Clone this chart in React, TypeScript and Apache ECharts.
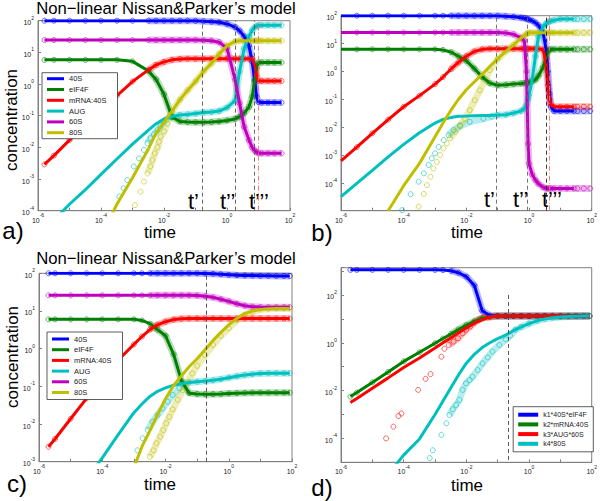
import React, { useEffect, useRef } from 'react';
import * as echarts from 'echarts';

const FONT = 'Liberation Sans, Arial, Helvetica, sans-serif';
const SPECIES = ['40S', 'eIF4F', 'mRNA:40S', 'AUG', '60S', '80S'];
const D_NAMES = ['k1*40S*eIF4F', 'k2*mRNA:40S', 'k3*AUG*60S', 'k4*80S'];
const COLORS = ['#0000ff', '#008000', '#ff0000', '#00bfbf', '#bf00bf', '#bfbf00'];
const TITLE = 'Non\u2212linear Nissan&Parker\u2019s model';

// ---------- panel a ----------
const tA = [1.6e-6, 3.2e-6, 1e-5, 3.2e-5, 1e-4, 3.2e-4, 1e-3, 3.2e-3, 5.6e-3, 1e-2, 1.8e-2, 3.2e-2, 5.6e-2, 0.1, 0.18, 0.32, 0.56, 1, 1.8, 2.5, 3.5, 5, 6.3, 7.6, 8.7, 10, 12.6, 20, 32, 54];
const a40S = [100, 100, 100, 100, 100, 100, 100, 100, 100, 100, 100, 100, 100, 99, 96, 93, 89, 79, 63, 48, 32, 16, 5, 1.3, 0.4, 0.27, 0.26, 0.26, 0.26, 0.26];
const aEIF4F = [5.8, 5.8, 5.8, 5.8, 5.8, 5.8, 5.2, 2.6, 1.4, 0.47, 0.09, 0.066, 0.063, 0.062, 0.062, 0.063, 0.066, 0.071, 0.079, 0.093, 0.12, 0.19, 0.4, 1.3, 3.2, 4.8, 4.8, 4.8, 4.8, 4.8];
const aMRNA = [2.9e-3, 5.5e-3, 0.017, 0.049, 0.14, 0.43, 1.2, 2.8, 4.0, 5.0, 5.8, 6.2, 6.3, 6.3, 6.3, 6.3, 6.3, 6.3, 6.3, 6.3, 6.3, 6.3, 6.3, 4.0, 1.8, 1.26, 1.25, 1.25, 1.25, 1.25];
const aAUG = [2.5e-5, 5e-5, 1.6e-4, 4.6e-4, 1.4e-3, 4.3e-3, 0.0126, 0.035, 0.056, 0.079, 0.095, 0.105, 0.11, 0.117, 0.126, 0.13, 0.14, 0.18, 0.3, 2.5, 13, 32, 50, 62, 68, 71, 72, 72, 72, 72];
const a60S = [24.5, 24.5, 24.5, 24.5, 24.5, 24.5, 24.5, 24.5, 24.5, 24.5, 24.5, 24.5, 24.5, 24.5, 24, 23.4, 21, 13.5, 1.4, 0.25, 0.045, 0.017, 0.01, 7.9e-3, 7.1e-3, 6.6e-3, 6.5e-3, 6.5e-3, 6.5e-3, 6.5e-3];
const a80S = [null, null, null, null, 1.6e-5, 1.6e-4, 1.1e-3, 8.9e-3, 0.028, 0.063, 0.14, 0.32, 0.63, 1.2, 2.5, 4.5, 8.9, 16, 22, 23.4, 23.4, 23.4, 23.4, 23.4, 23.4, 23.4, 23.4, 23.4, 23.4, 23.4];
// early circles that leave the lines
const aAUGCircT = [3.8e-4, 5.2e-4, 6.8e-4, 1.1e-3, 1.6e-3, 2.3e-3, 3e-3, 3.7e-3, 4.8e-3, 6.2e-3, 7.8e-3, 0.01, 0.0145];
const aAUGCircV = [2.8e-4, 5.1e-4, 9.3e-4, 2.5e-3, 4.5e-3, 8.3e-3, 0.0135, 0.0195, 0.026, 0.035, 0.048, 0.065, 0.089];
const a80SCircT = [1.2e-3, 1.8e-3, 2.3e-3, 3e-3, 3.7e-3, 4.3e-3, 5.1e-3, 6.2e-3, 6.9e-3, 7.8e-3, 0.01, 0.0126, 0.0158];
const a80SCircV = [1.5e-4, 4e-4, 8.3e-4, 1.5e-3, 2.5e-3, 4e-3, 6.5e-3, 0.01, 0.015, 0.022, 0.032, 0.056, 0.1];
const aMarks = [0.165, 1.85, 7.6];
const aRedMark = 9.5;

// ---------- panel b ----------
const tB = [1e-6, 3.2e-6, 1e-5, 3.2e-5, 1e-4, 3.2e-4, 1e-3, 1.8e-3, 3.2e-3, 5.6e-3, 0.01, 0.018, 0.032, 0.056, 0.1, 0.18, 0.32, 0.56, 0.71, 0.83, 0.93, 1.0, 1.26, 1.6, 2.0, 2.8, 3.5, 4.0, 4.5, 5.0, 6.3, 10, 16, 27];
const b40S = [100, 100, 100, 100, 100, 100, 100, 100, 100, 100, 100, 100, 100, 100, 100, 95, 91, 85, 81, 78, 74, 72, 66, 56, 45, 25, 6.3, 1.0, 0.16, 0.054, 0.038, 0.038, 0.038, 0.038];
const bEIF4F = [6.2, 6.2, 6.2, 6.2, 6.2, 6.2, 6.2, 5.9, 5.0, 3.5, 2.4, 1.26, 0.63, 0.38, 0.32, 0.33, 0.35, 0.37, 0.38, 0.39, 0.39, 0.4, 0.45, 0.5, 0.7, 1.4, 3.2, 5.0, 5.9, 6.2, 6.2, 6.2, 6.2, 6.2];
const bMRNA = [6.2e-4, 1.9e-3, 6e-3, 0.0186, 0.054, 0.135, 0.35, 0.63, 1.2, 2.1, 3.5, 5.2, 6.2, 6.5, 6.5, 6.5, 6.5, 6.5, 6.5, 6.5, 6.5, 6.5, 6.5, 6.5, 6.5, 6.0, 2.0, 0.32, 0.1, 0.063, 0.054, 0.054, 0.054, 0.054];
const bAUG = [3.2e-5, 9.5e-5, 2.8e-4, 8.5e-4, 2.4e-3, 6.3e-3, 0.014, 0.019, 0.022, 0.0245, 0.025, 0.0257, 0.026, 0.026, 0.027, 0.028, 0.032, 0.038, 0.047, 0.063, 0.1, 0.14, 0.5, 3.5, 18, 40, 52, 58, 62, 65, 69, 76, 76, 76];
const b60S = [25, 25, 25, 25, 25, 25, 25, 25, 25, 25, 25, 25, 25, 25, 25, 24, 21.4, 16, 12.6, 1.0, 2.5e-3, 5e-4, 2e-4, 1.26e-4, 9.3e-5, 7e-5, 6.3e-5, 6.3e-5, 6.3e-5, 6.3e-5, 6.3e-5, 6.3e-5, 6.3e-5, 6.3e-5];
const b80S = [null, null, null, 1e-5, 7.9e-5, 5e-4, 4.5e-3, 0.014, 0.04, 0.1, 0.22, 0.42, 0.8, 1.5, 2.8, 5.2, 8.9, 16, 19, 22, 23.4, 24.5, 24.5, 24.5, 24.5, 24.5, 24.5, 24.5, 24.5, 24.5, 24.5, 24.5, 24.5, 24.5];
const bAUGCircT = [8.9e-5, 1.66e-4, 3e-4, 4.4e-4, 6.3e-4, 7.9e-4, 1e-3, 1.3e-3, 1.9e-3, 2.7e-3, 3.9e-3, 6.3e-3, 0.0129, 0.035, 0.063];
const bAUGCircV = [1.05e-5, 3.9e-5, 1.1e-4, 2.2e-4, 4.4e-4, 7.6e-4, 1.15e-3, 1.95e-3, 3.4e-3, 5.1e-3, 7.8e-3, 0.011, 0.0155, 0.02, 0.024];
const b80SCircT = [3e-4, 4.4e-4, 5.5e-4, 7.1e-4, 8.9e-4, 1.15e-3, 1.45e-3, 1.86e-3, 2.4e-3, 3e-3, 4.4e-3, 6.3e-3, 9.1e-3, 0.0129, 0.0186, 0.027, 0.04, 0.056];
const b80SCircV = [1.4e-5, 4e-5, 8.3e-5, 1.66e-4, 3.3e-4, 5.6e-4, 1e-3, 1.74e-3, 2.6e-3, 4e-3, 6.8e-3, 0.0117, 0.02, 0.041, 0.093, 0.21, 0.5, 1.12];
// circles past the end of the lines
const bTailT = [35, 56, 90];
const bTail40S = [0.038, 0.038, 0.038];
const bTailEIF4F = [6.2, 6.2, 6.2];
const bTailMRNA = [0.054, 0.054, 0.054];
const bTailAUG = [76, 76, 76];
const bTail60S = [6.3e-5, 6.3e-5, 6.3e-5];
const bTail80S = [24.5, 24.5, 24.5];
const bMarks = [0.091, 0.87, 3.5];
const bRedMark = 4.4;

// ---------- panel c ----------
const tC = [2e-6, 3.2e-6, 1e-5, 3.2e-5, 1e-4, 3.2e-4, 1e-3, 1.8e-3, 3.2e-3, 5.6e-3, 0.01, 0.018, 0.032, 0.056, 0.1, 0.18, 0.32, 0.56, 1, 1.8, 3.2, 5.6, 10, 18, 32, 56, 85];
const c40S = [100, 100, 100, 100, 100, 100, 100, 100, 100, 100, 100, 100, 100, 100, 100, 99, 97, 94, 91, 89, 88, 87, 86, 85.5, 85, 85, 85];
const cEIF4F = [6.0, 6.0, 6.0, 6.0, 6.0, 6.0, 6.0, 5.6, 4.6, 3.2, 2.2, 0.71, 0.14, 0.066, 0.063, 0.062, 0.062, 0.063, 0.065, 0.066, 0.067, 0.068, 0.068, 0.068, 0.068, 0.068, 0.068];
const cMRNA = [2.5e-3, 4e-3, 0.0138, 0.048, 0.16, 0.5, 1.3, 2.1, 3.2, 4.3, 5.2, 5.9, 6.2, 6.3, 6.3, 6.3, 6.3, 6.3, 6.3, 6.3, 6.3, 6.3, 6.3, 6.3, 6.3, 6.3, 6.3];
const cAUG = [null, null, null, 3.5e-4, 1.26e-3, 5.2e-3, 0.02, 0.034, 0.054, 0.074, 0.091, 0.107, 0.117, 0.126, 0.132, 0.138, 0.145, 0.155, 0.17, 0.185, 0.2, 0.21, 0.22, 0.222, 0.224, 0.224, 0.224];
const c60S = [26, 26, 26, 26, 26, 26, 26, 26, 26, 26, 26, 26, 26, 26, 25.7, 24.5, 23, 20.5, 18, 15.5, 13.8, 13, 12.7, 12.6, 12.6, 12.6, 12.6];
const c80S = [null, null, null, null, null, null, 7e-4, 2.5e-3, 6.6e-3, 0.0178, 0.047, 0.105, 0.19, 0.33, 0.54, 0.95, 1.66, 2.7, 4.3, 6.3, 8.5, 10, 11, 11.5, 11.7, 11.7, 11.7];
const cAUGCircT = [1.3e-3, 1.9e-3, 2.75e-3, 3.9e-3, 5.6e-3, 8.1e-3, 0.0117, 0.017, 0.0275];
const cAUGCircV = [2e-3, 4.2e-3, 6.9e-3, 0.0115, 0.0174, 0.026, 0.039, 0.059, 0.089];
const c80SCircT = [3.2e-3, 4.2e-3, 5.2e-3, 6.8e-3, 8.5e-3, 0.0105, 0.0132, 0.017, 0.0245, 0.035, 0.05, 0.071, 0.1, 0.178, 0.32, 0.56, 1.0, 1.78, 3.2, 5.6];
const c80SCircV = [1.35e-3, 2e-3, 3.1e-3, 4.6e-3, 6.9e-3, 0.0105, 0.0155, 0.0245, 0.044, 0.079, 0.13, 0.22, 0.35, 0.68, 1.26, 2.2, 3.5, 5.6, 7.9, 9.5];
const cMark = 0.2;

// ---------- panel d ----------
const tD = [2e-6, 3.2e-6, 1e-5, 3.2e-5, 1e-4, 3.2e-4, 1e-3, 1.8e-3, 3.2e-3, 5.6e-3, 0.01, 0.018, 0.032, 0.056, 0.1, 0.18, 0.32, 0.56, 1, 1.8, 3.2, 5.6, 10, 18, 32, 56, 85];
const dK1 = [1120, 1120, 1120, 1120, 1120, 1120, 1120, 1100, 1030, 850, 580, 250, 22, 13.8, 13.2, 13.2, 13.2, 13.2, 13.2, 13.2, 13.2, 13.2, 13.2, 13.2, 13.2, 13.2, 13.2];
const dK2 = [5.6e-3, 8.3e-3, 0.022, 0.06, 0.166, 0.4, 0.95, 1.5, 2.3, 3.6, 5.5, 7.9, 10.7, 12.3, 13.2, 13.2, 13.2, 13.2, 13.2, 13.2, 13.2, 13.2, 13.2, 13.2, 13.2, 13.2, 13.2];
const dK3 = [3.2e-3, 4.7e-3, 0.0126, 0.034, 0.093, 0.23, 0.6, 1.0, 1.6, 2.6, 4.2, 6.6, 9.3, 12, 13.2, 13.2, 13.2, 13.2, 13.2, 13.2, 13.2, 13.2, 13.2, 13.2, 13.2, 13.2, 13.2];
const dK4 = [null, null, null, 3.2e-6, 2e-5, 9.5e-5, 1e-3, 3.7e-3, 0.0132, 0.045, 0.14, 0.33, 0.63, 1.0, 1.48, 2.1, 3.2, 4.6, 6.3, 8.3, 10, 11.2, 12, 12.6, 12.9, 13.2, 13.2];
const dK3CircT = [2.75e-5, 4.7e-5, 6.8e-5, 8.5e-5, 2.9e-4, 5e-4, 7.2e-4, 1.6e-3, 2e-3, 2.75e-3, 3.9e-3, 5.4e-3, 7.6e-3, 9.8e-3, 0.0132, 0.0178, 0.0257, 0.037];
const dK3CircV = [1e-4, 3.1e-4, 8.7e-4, 1.1e-3, 0.0107, 0.031, 0.049, 0.26, 0.56, 0.81, 1.12, 1.55, 2.5, 3.5, 4.8, 6.9, 9.5, 11.7];
const dK4CircT = [6.8e-4, 8.5e-4, 1.6e-3, 2.3e-3, 2.9e-3, 3.7e-3, 4.7e-3, 6e-3, 7.6e-3, 9.8e-3, 0.0126, 0.0158, 0.0229, 0.033, 0.048, 0.068, 0.112, 0.182, 0.25, 0.37];
const dK4CircV = [1.5e-5, 3.2e-5, 1.4e-4, 4.3e-4, 9.5e-4, 1.66e-3, 2.5e-3, 4.1e-3, 0.0107, 0.02, 0.0275, 0.038, 0.072, 0.138, 0.245, 0.43, 0.81, 1.38, 2.0, 3.5];
const dMark = 0.21;

// ---------- helpers ----------
const lg = (x: number) => Math.log10(x);
const toPts = (t: number[], v: (number | null)[]) =>
  t.map((x, i) => (v[i] == null ? null : [lg(x), lg(v[i] as number)])).filter((p) => p !== null) as number[][];

const withEarly = (t: number[], v: (number | null)[], et: number[], ev: number[]) => {
  const last = et[et.length - 1];
  const lt: number[] = [];
  const lv: (number | null)[] = [];
  t.forEach((x, i) => {
    if (x > last) { lt.push(x); lv.push(v[i]); }
  });
  return toPts(et, ev).concat(toPts(lt, lv));
};

const lineS = (name: string, color: string, g: number, data: any[]) => ({
  type: 'line', name, xAxisIndex: g, yAxisIndex: g, data,
  showSymbol: false, symbol: 'none', clip: true, z: 3,
  lineStyle: { width: 3, color }, itemStyle: { color }, silent: true,
});
// soft band where the solver's circles are packed densely
const bandS = (color: string, g: number, data: number[][]) => ({
  type: 'line', name: 'band', xAxisIndex: g, yAxisIndex: g,
  data: data.filter((p) => p[0] >= -2.6),
  showSymbol: false, symbol: 'none', clip: true, z: 1, silent: true,
  lineStyle: { width: 7, color, opacity: 0.28 }, itemStyle: { color },
});
const circS = (name: string, color: string, g: number, data: any[]) => ({
  type: 'scatter', name, xAxisIndex: g, yAxisIndex: g, data,
  symbol: 'circle', symbolSize: 5, clip: true, z: 2, silent: true,
  itemStyle: { color: 'rgba(0,0,0,0)', borderColor: color, borderWidth: 0.7, opacity: 0.85 },
});
const markS = (g: number, lines: any[]) => ({
  type: 'line', name: 'marks' + g, xAxisIndex: g, yAxisIndex: g, data: [], z: 5, silent: true,
  markLine: { symbol: 'none', silent: true, label: { show: false }, animation: false, data: lines },
});
const vLine = (t: number, color: string, type: any) => ({
  xAxis: lg(t), lineStyle: { color, width: 0.9, type },
});

const rich = {
  b: { fontSize: 7, color: '#222', fontFamily: FONT, verticalAlign: 'bottom', lineHeight: 11 },
  s: { fontSize: 5, color: '#222', fontFamily: FONT, verticalAlign: 'top', lineHeight: 11 },
};
const fmt = (skipOdd: boolean, hide: number[] = []) => (v: number) => {
  const e = Math.round(v);
  if (Math.abs(v - e) > 1e-6) return '';
  if (skipOdd && e % 2 !== 0) return '';
  if (hide.includes(e)) return '';
  return '{b|10}{s|' + e + '}';
};
const axisBase = {
  type: 'value', interval: 1,
  axisLine: { show: true, onZero: false, lineStyle: { color: '#808080', width: 1 } },
  axisTick: { show: true, inside: true, length: 3, lineStyle: { color: '#808080' } },
  splitLine: { show: false },
};
const xAx = (g: number) => ({
  ...axisBase, gridIndex: g, min: -6, max: 2,
  axisLabel: { formatter: fmt(true), rich, margin: 2 },
});
const yAx = (g: number, min: number, max: number, skipOdd: boolean, hide: number[] = []) => ({
  ...axisBase, gridIndex: g, min, max,
  axisLabel: { formatter: fmt(skipOdd, hide), rich, margin: 4 },
});

const legendBase = {
  orient: 'vertical', icon: 'rect', selectedMode: false,
  borderColor: '#333', borderWidth: 0.8, backgroundColor: '#fff',
  textStyle: { fontSize: 7.5, lineHeight: 8, color: '#222', fontFamily: FONT },
};

const txt = (text: string, x: number, y: number, size: number, extra: any = {}) => ({
  type: 'text', x, y, silent: true, ...extra,
  style: { text, fontSize: size, fontFamily: FONT, fill: '#000', textAlign: 'center', textVerticalAlign: 'middle', ...(extra.style || {}) },
});

function buildOption() {
  const series: any[] = [];
  const aV = [a40S, aEIF4F, aMRNA, aAUG, a60S, a80S];
  const bV = [b40S, bEIF4F, bMRNA, bAUG, b60S, b80S];
  const cV = [c40S, cEIF4F, cMRNA, cAUG, c60S, c80S];
  const dV = [dK1, dK2, dK3, dK4];
  // lines first (legend picks the first series of a name)
  aV.forEach((v, i) => series.push(lineS(SPECIES[i], COLORS[i], 0, toPts(tA, v))));
  bV.forEach((v, i) => series.push(lineS(SPECIES[i], COLORS[i], 1, toPts(tB, v))));
  cV.forEach((v, i) => series.push(lineS(SPECIES[i], COLORS[i], 2, toPts(tC, v))));
  dV.forEach((v, i) => series.push(lineS(D_NAMES[i], COLORS[i], 3, toPts(tD, v))));

  const circ: { g: number; name: string; color: string; d: number[][] }[] = [];
  aV.forEach((v, i) => {
    let d: number[][];
    if (i === 3) d = withEarly(tA, v, aAUGCircT, aAUGCircV);
    else if (i === 5) d = withEarly(tA, v, a80SCircT, a80SCircV);
    else d = toPts(tA, v);
    circ.push({ g: 0, name: SPECIES[i], color: COLORS[i], d });
  });
  const bTails = [bTail40S, bTailEIF4F, bTailMRNA, bTailAUG, bTail60S, bTail80S];
  bV.forEach((v, i) => {
    let d: number[][];
    if (i === 3) d = withEarly(tB, v, bAUGCircT, bAUGCircV);
    else if (i === 5) d = withEarly(tB, v, b80SCircT, b80SCircV);
    else d = toPts(tB.slice(1), v.slice(1));
    d = d.concat(toPts(bTailT, bTails[i]));
    circ.push({ g: 1, name: SPECIES[i], color: COLORS[i], d });
  });
  cV.forEach((v, i) => {
    let d: number[][];
    if (i === 3) d = withEarly(tC, v, cAUGCircT, cAUGCircV);
    else if (i === 5) d = withEarly(tC, v, c80SCircT, c80SCircV);
    else d = toPts(tC, v);
    circ.push({ g: 2, name: SPECIES[i], color: COLORS[i], d });
  });
  dV.forEach((v, i) => {
    let d: number[][];
    if (i === 2) d = withEarly(tD, v, dK3CircT, dK3CircV);
    else if (i === 3) d = withEarly(tD, v, dK4CircT, dK4CircV);
    else d = toPts(tD, v);
    circ.push({ g: 3, name: D_NAMES[i], color: COLORS[i], d });
  });
  circ.forEach((c) => series.push(circS(c.name, c.color, c.g, c.d)));
  circ.forEach((c) => series.push(bandS(c.color, c.g, c.d)));

  const dash = [4, 3];
  const dashDot = [5, 2, 1, 2];
  series.push(markS(0, [...aMarks.map((t) => vLine(t, '#555', dash)), vLine(aRedMark, '#ff6f6f', dashDot)]));
  series.push(markS(1, [...bMarks.map((t, i) => vLine(t, i === 2 ? '#222' : '#666', dash)), vLine(bRedMark, '#ff6f6f', dashDot)]));
  series.push(markS(2, [vLine(cMark, '#444', dash)]));
  series.push(markS(3, [[
    { coord: [lg(dMark), 2], lineStyle: { color: '#444', width: 0.9, type: dash } },
    { coord: [lg(dMark), -5] },
  ]]));

  const graphic: any[] = [
    txt(TITLE, 166, 8.5, 16.7),
    txt(TITLE, 166, 258, 16.7),
    txt('concentration', 11, 120, 17, { rotation: Math.PI / 2 }),
    txt('concentration', 12, 357, 17, { rotation: Math.PI / 2 }),
    txt('time', 160, 232, 17),
    txt('time', 467, 232, 17),
    txt('time', 160, 484, 17),
    txt('time', 467, 485, 17),
    txt('a)', 13, 230, 24),
    txt('b)', 322, 232, 24),
    txt('c)', 17, 483, 24),
    txt('d)', 322, 487, 24),
    txt('t\u2019', 188, 201, 22, { style: { textAlign: 'left' } }),
    txt('t\u2019\u2019', 220, 201, 22, { style: { textAlign: 'left' } }),
    txt('t\u2019\u2019\u2019', 249, 201, 22, { style: { textAlign: 'left' } }),
    txt('t\u2019', 484, 199, 22, { style: { textAlign: 'left' } }),
    txt('t\u2019\u2019', 513, 199, 22, { style: { textAlign: 'left' } }),
    txt('t\u2019\u2019\u2019', 542, 199, 22, { style: { textAlign: 'left' } }),
  ];

  const gridStyle = { show: true, borderColor: '#808080', borderWidth: 1, backgroundColor: 'transparent' };
  return {
    animation: false,
    textStyle: { fontFamily: FONT },
    grid: [
      { ...gridStyle, left: 38, top: 20.7, width: 252, height: 190 },
      { ...gridStyle, left: 341, top: 15.7, width: 252, height: 195 },
      { ...gridStyle, left: 39, top: 273.3, width: 253, height: 188.4 },
      { ...gridStyle, left: 341, top: 267.7, width: 252, height: 194.6 },
    ],
    xAxis: [xAx(0), xAx(1), xAx(2), xAx(3)],
    yAxis: [
      yAx(0, -4, 2, false),
      yAx(1, -5, 2, false, [-5]),
      yAx(2, -3, 2, false),
      yAx(3, -5, 3.14, true),
    ],
    legend: [
      { ...legendBase, data: SPECIES, left: 42, top: 72.7, itemWidth: 17, itemHeight: 3, itemGap: 2.8, padding: [2, 11, 2, 5] },
      { ...legendBase, data: SPECIES, left: 47, top: 332, itemWidth: 17, itemHeight: 3, itemGap: 2.7, padding: [3, 11, 3, 5] },
      { ...legendBase, data: D_NAMES, right: 6.7, top: 406.7, itemWidth: 20, itemHeight: 4, itemGap: 1.7, padding: [4, 5, 4, 5], textStyle: { ...legendBase.textStyle, fontSize: 7 } },
    ],
    series,
    graphic,
  };
}

export default function App() {
  const ref = useRef<HTMLDivElement>(null);
  useEffect(() => {
    if (!ref.current) return;
    const chart = echarts.init(ref.current, undefined, { renderer: 'svg' });
    chart.setOption(buildOption() as any);
    return () => chart.dispose();
  }, []);
  return (
    <div
      ref={ref}
      style={{ position: 'fixed', left: 0, top: 0, width: 600, height: 501, background: '#fff' }}
    />
  );
}
